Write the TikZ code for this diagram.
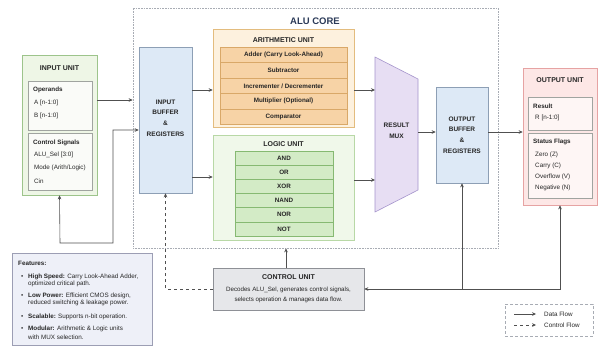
\documentclass[tikz,border=0pt]{standalone}
\usepackage{fontspec}
\setmainfont{Liberation Sans}
\usetikzlibrary{arrows.meta,calc}

\definecolor{txt}{HTML}{262626}
\definecolor{wire}{HTML}{505050}
\definecolor{coretitle}{HTML}{2B3A58}
\definecolor{coreline}{HTML}{A8ACB4}
\definecolor{ingreen}{HTML}{EEF6E6}
\definecolor{ingreenline}{HTML}{9DC48B}
\definecolor{innerfill}{HTML}{FAFBF8}
\definecolor{innerline}{HTML}{A0A4A0}
\definecolor{buffill}{HTML}{DDE9F6}
\definecolor{bufline}{HTML}{8D9FB5}
\definecolor{arithfill}{HTML}{FDF1DE}
\definecolor{arithline}{HTML}{E3BC7E}
\definecolor{arithitem}{HTML}{F7D3A6}
\definecolor{arithitemline}{HTML}{D9A868}
\definecolor{logicfill}{HTML}{F0F8EA}
\definecolor{logicline}{HTML}{B8D8A6}
\definecolor{logicitem}{HTML}{D3EBC6}
\definecolor{logicitemline}{HTML}{86B972}
\definecolor{muxfill}{HTML}{E7DEF3}
\definecolor{muxline}{HTML}{A594CC}
\definecolor{outfill}{HTML}{FDE7E6}
\definecolor{outredline}{HTML}{E6A3A3}
\definecolor{outinner}{HTML}{FEF6F5}
\definecolor{cufill}{HTML}{E6E7EA}
\definecolor{culine}{HTML}{8E9096}
\definecolor{featfill}{HTML}{EEF0F8}
\definecolor{featline}{HTML}{9C9EB4}

\begin{document}
\begin{tikzpicture}[x=1pt,y=-1pt,
  text=txt,
  box/.style={draw, line width=0.6pt, inner sep=0pt},
  unittitle/.style={inner sep=0pt, font=\fontsize{7}{8}\selectfont\bfseries},
  lbl/.style={anchor=west, inner sep=0pt, font=\fontsize{6.3}{7}\selectfont},
  lblb/.style={lbl, font=\fontsize{6.3}{7}\selectfont\bfseries},
  itemtxt/.style={font=\fontsize{6.3}{7}\selectfont\bfseries},
  bigtxt/.style={align=center, inner sep=0pt, font=\fontsize{6.5}{10.8}\selectfont\bfseries},
  arithbox/.style={box, fill=arithitem, draw=arithitemline, minimum width=127pt, minimum height=15.4pt, itemtxt},
  logicbox/.style={box, fill=logicitem, draw=logicitemline, minimum width=98pt, minimum height=14.2pt, itemtxt},
  innerbox/.style={box, draw=innerline, line width=0.5pt},
  data/.style={draw=wire, line width=0.6pt, -{Stealth[length=4pt,width=3.6pt]}},
  ctrl/.style={data, dashed},
]
\useasboundingbox (0,0) rectangle (601,346);
\fill[white] (0,0) rectangle (601,346);

% ---------- ALU core frame ----------
\node[box, draw=coreline, densely dotted, line width=0.7pt, fill=white,
      minimum width=365pt, minimum height=240pt] (core) at (315.5,128) {};
\node[inner sep=0pt, text=coretitle, font=\fontsize{9.5}{10}\selectfont\bfseries] (coretitle) at (315,21) {ALU CORE};

% ---------- input unit ----------
\node[box, fill=ingreen, draw=ingreenline, minimum width=75pt, minimum height=140pt] (inunit) at (59.5,125) {};
\node[unittitle] (intitle) at (59.5,68) {INPUT UNIT};
\node[innerbox, fill=innerfill, minimum width=64pt, minimum height=49pt] (opbox) at (60,105.5) {};
\node[lblb] (opt) at (33,90) {Operands};
\node[lbl] (opa) at (34,103) {A [n-1:0]};
\node[lbl] (opb) at (34,116) {B [n-1:0]};
\node[innerbox, fill=innerfill, minimum width=64pt, minimum height=57pt] (csbox) at (60,162) {};
\node[lblb] (cst) at (33,143) {Control Signals};
\node[lbl] (csa) at (34,155) {ALU\_Sel [3:0]};
\node[lbl] (csb) at (34,168) {Mode (Arith/Logic)};
\node[lbl] (csc) at (34,181) {Cin};

% ---------- input buffer ----------
\node[box, fill=buffill, draw=bufline, minimum width=53pt, minimum height=146pt] (inbuf) at (165.5,120) {};
\node[bigtxt] (inbuft) at (165.5,118) {INPUT\\BUFFER\\\&\\REGISTERS};

% ---------- arithmetic unit ----------
\node[box, fill=arithfill, draw=arithline, minimum width=141pt, minimum height=98pt] (arith) at (283.5,78) {};
\node[unittitle] (aritht) at (283.5,40) {ARITHMETIC UNIT};
\node[arithbox] (add) at (283.5,55.0) {Adder (Carry Look-Ahead)};
\node[arithbox] (sub) at (283.5,70.4) {Subtractor};
\node[arithbox] (inc) at (283.5,85.8) {Incrementer / Decrementer};
\node[arithbox] (mul) at (283.5,101.2) {Multiplier (Optional)};
\node[arithbox] (cmp) at (283.5,116.6) {Comparator};

% ---------- logic unit ----------
\node[box, fill=logicfill, draw=logicline, minimum width=141pt, minimum height=105pt] (logic) at (283.5,187.5) {};
\node[unittitle] (logict) at (283.5,144) {LOGIC UNIT};
\node[logicbox] (gand)  at (284,158.0) {AND};
\node[logicbox] (gor)   at (284,172.2) {OR};
\node[logicbox] (gxor)  at (284,186.4) {XOR};
\node[logicbox] (gnand) at (284,200.6) {NAND};
\node[logicbox] (gnor)  at (284,214.8) {NOR};
\node[logicbox] (gnot)  at (284,229.0) {NOT};

% ---------- result multiplexer ----------
\coordinate (muxnw) at (375,57);
\coordinate (muxne) at (418,79);
\coordinate (muxse) at (418,190);
\coordinate (muxsw) at (375,212);
\draw[fill=muxfill, draw=muxline, line width=0.6pt] (muxnw) -- (muxne) -- (muxse) -- (muxsw) -- cycle;
\node[bigtxt, font=\fontsize{6.5}{11}\selectfont\bfseries] (mux) at (396.5,131) {RESULT\\MUX};

% ---------- output buffer ----------
\node[box, fill=buffill, draw=bufline, minimum width=52pt, minimum height=96pt] (outbuf) at (462,135) {};
\node[bigtxt] (outbuft) at (462,135) {OUTPUT\\BUFFER\\\&\\REGISTERS};

% ---------- output unit ----------
\node[box, fill=outfill, draw=outredline, minimum width=74pt, minimum height=137pt] (outunit) at (560,136.5) {};
\node[unittitle] (outt) at (560,80) {OUTPUT UNIT};
\node[innerbox, fill=outinner, minimum width=64pt, minimum height=33pt] (resbox) at (560,113.5) {};
\node[lblb] (rest) at (533,106) {Result};
\node[lbl] (resr) at (535,118) {R [n-1:0]};
\node[innerbox, fill=outinner, minimum width=64pt, minimum height=65pt] (stbox) at (560,165.5) {};
\node[lblb] (stt) at (533,142) {Status Flags};
\node[lbl] (stz) at (535,155) {Zero (Z)};
\node[lbl] (stc) at (535,166) {Carry (C)};
\node[lbl] (stv) at (535,177) {Overflow (V)};
\node[lbl] (stn) at (535,188) {Negative (N)};

% ---------- control unit ----------
\node[box, fill=cufill, draw=culine, minimum width=151pt, minimum height=42pt] (cu) at (288.5,289) {};
\node[unittitle] (cut) at (288.5,277.5) {CONTROL UNIT};
\node[align=center, inner sep=0pt, font=\fontsize{6.2}{10}\selectfont] (cud) at (288.5,295)
  {Decodes ALU\_Sel, generates control signals,\\selects operation \& manages data flow.};

% ---------- features ----------
\node[box, fill=featfill, draw=featline, minimum width=140pt, minimum height=92pt] (feat) at (82,299) {};
\node[lblb] (ft) at (18,263) {Features:};
\node[lbl] (fb1) at (21,277) {\textbullet};
\node[lbl] (f1a) at (28,277) {\textbf{High Speed:} Carry Look-Ahead Adder,};
\node[lbl] (f1b) at (28,284) {optimized critical path.};
\node[lbl] (fb2) at (21,296) {\textbullet};
\node[lbl] (f2a) at (28,296) {\textbf{Low Power:} Efficient CMOS design,};
\node[lbl] (f2b) at (28,303) {reduced switching \& leakage power.};
\node[lbl] (fb3) at (21,317) {\textbullet};
\node[lbl] (f3a) at (28,317) {\textbf{Scalable:} Supports n-bit operation.};
\node[lbl] (fb4) at (21,329) {\textbullet};
\node[lbl] (f4a) at (28,329) {\textbf{Modular:} Arithmetic \& Logic units};
\node[lbl] (f4b) at (28,337) {with MUX selection.};

% ---------- legend ----------
\node[box, fill=white, draw=coreline, densely dashed, minimum width=88pt, minimum height=32pt] (legend) at (549,320) {};
\coordinate (ld1) at (514,314);
\coordinate (ld2) at (536,314);
\coordinate (lc1) at (514,325);
\coordinate (lc2) at (536,325);
\draw[data] (ld1) -- (ld2);
\draw[ctrl] (lc1) -- (lc2);
\node[lbl] (ldt) at (544,314) {Data Flow};
\node[lbl] (lct) at (544,325) {Control Flow};

% ---------- data path ----------
\coordinate (rowin) at (0,100);
\coordinate (rowar) at (0,90);
\coordinate (rowlo) at (0,177);
\coordinate (rowlm) at (0,180);
\coordinate (rowout) at (0,132);
\coordinate (rowcs) at (0,130);
\coordinate (muxe) at (418,132);
\draw[data] (inunit.east |- rowin) -- (core.west |- rowin);
\draw[data] (inbuf.east |- rowar) -- (arith.west |- rowar);
\draw[data] (inbuf.east |- rowlo) -- (logic.west |- rowlo);
\draw[data] (arith.east |- rowar) -- (muxnw |- rowar);
\draw[data] (logic.east |- rowlm) -- (muxnw |- rowlm);
\draw[data] (muxe) -- (outbuf.west |- rowout);
\draw[data] (outbuf.east |- rowout) -- (outunit.west |- rowout);

% control signals from the input unit, routed below it into the buffer
\coordinate (ubl) at (60,243);
\coordinate (ubr) at (113,243);
\coordinate (uup) at (113,130);
\draw[draw=wire, line width=0.6pt, {Stealth[length=4pt,width=3.6pt]}-{Stealth[length=4pt,width=3.6pt]}]
  (inunit.south) -- (ubl) -- (ubr) -- (uup) -- (inbuf.west |- rowcs);

% ---------- control lines ----------
\coordinate (cuup) at (286,0);
\draw[data] (cu.north -| cuup) -- (core.south -| cuup);
\draw[ctrl] (cu.west) -| (inbuf.south);
\draw[draw=wire, line width=0.6pt, {Stealth[length=4pt,width=3.6pt]}-{Stealth[length=4pt,width=3.6pt]}] (cu.east) -| (outunit.south);
\draw[data] (outbuf.south |- cu.east) -- (outbuf.south);
\end{tikzpicture}
\end{document}
